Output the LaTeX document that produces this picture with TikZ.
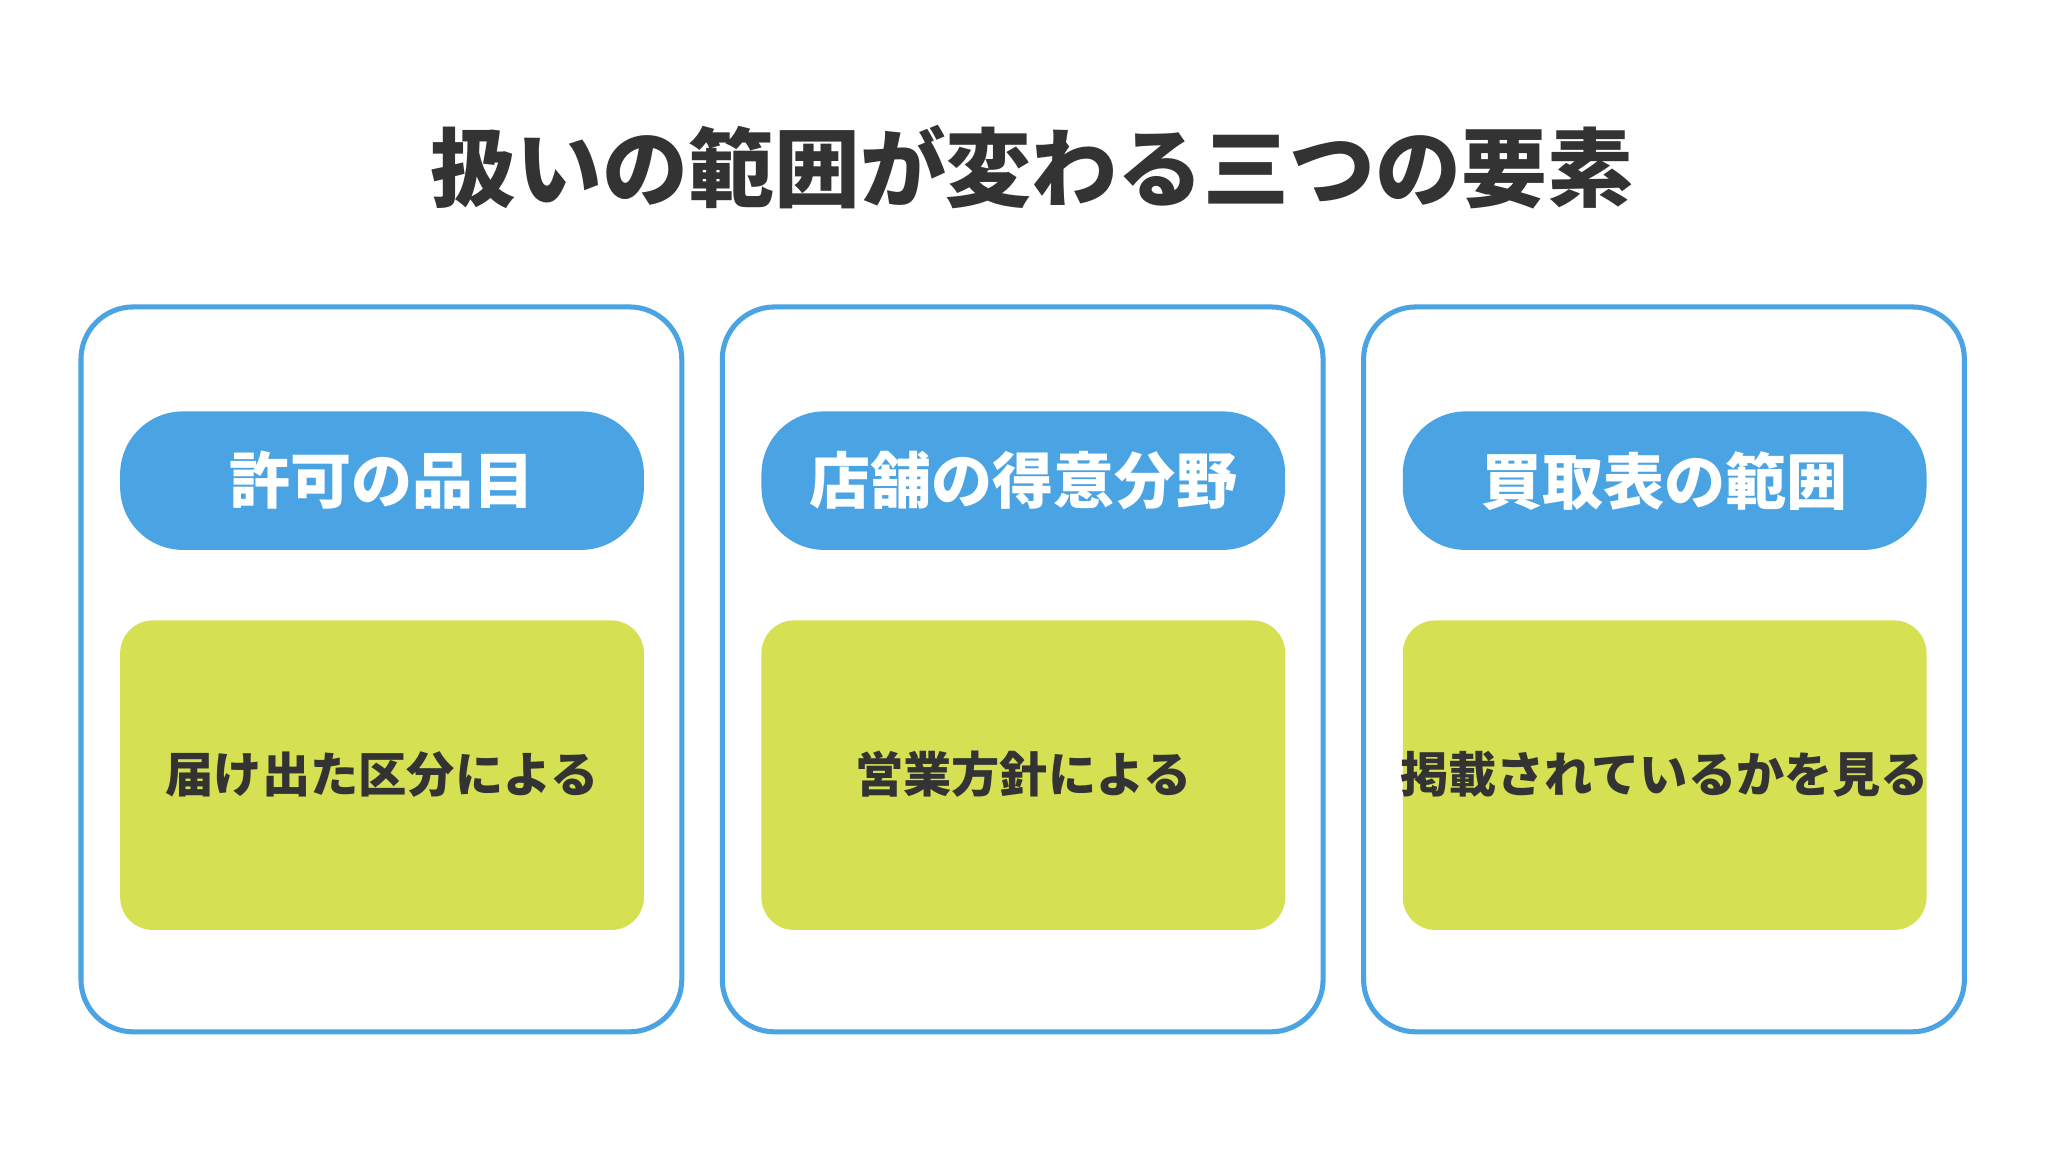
\documentclass[tikz,border=0pt]{standalone}
\usepackage{fontspec}
\setmainfont{Noto Sans CJK JP}
\definecolor{bl}{HTML}{4AA3E2}
\definecolor{gr}{HTML}{D5E152}
\definecolor{tx}{HTML}{333333}
\begin{document}
\begin{tikzpicture}[x=0.01cm,y=-0.01cm,
 outer/.style={draw=bl,line width=1.1pt,rounded corners=0.4cm,fill=white},
 head/.style={fill=bl,rounded corners=0.48cm},
 body/.style={fill=gr,rounded corners=0.25cm},
 htxt/.style={text=white,font=\bfseries\fontsize{13.3}{15}\selectfont},
 btxt/.style={text=tx,font=\bfseries\fontsize{10.5}{13}\selectfont}]
\useasboundingbox[fill=white] (0,0) rectangle (1568,882);
\node[text=tx,font=\bfseries\fontsize{18.7}{22}\selectfont] (title) at (790,128) {扱いの範囲が変わる三つの要素};
\foreach \i/\h/\b in {0/許可の品目/届け出た区分による,1/店舗の得意分野/営業方針による,2/買取表の範囲/掲載されているかを見る}{
 \begin{scope}[xshift=\i*491*0.01cm]
 \draw[outer] (62,235) rectangle (522,790);
 \fill[head] (92,315) rectangle (493,421);
 \fill[body] (92,475) rectangle (493,712);
 \node[htxt] (h\i) at (292.5,368) {\h};
 \node[btxt] (b\i) at (292.5,593) {\b};
 \end{scope}}
\end{tikzpicture}
\end{document}
